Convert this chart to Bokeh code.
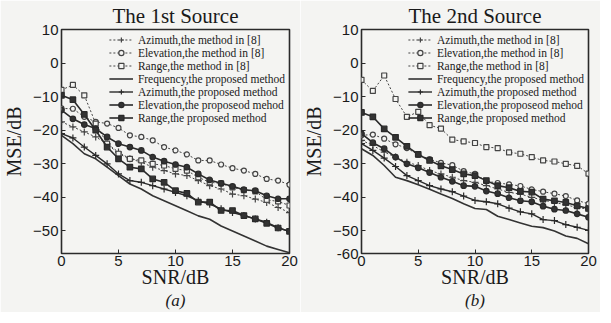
from bokeh.plotting import figure
from bokeh.models import FixedTicker, LinearAxis, Legend, LegendItem, Range1d
from bokeh.layouts import row
from bokeh.embed import file_html
from bokeh.resources import INLINE

snr = list(range(21))

# ---- The 1st Source (a) ----
az8_1 = [-17.5, -19, -20.5, -22, -24, -26.5, -28.5, -29.5, -31, -32, -33, -33.5, -35, -36.5, -37.5, -39, -39.5, -40.5, -41.5, -43, -44.5]
el8_1 = [-13.5, -13.6, -16, -17.5, -18, -19.3, -21.5, -22, -23, -25, -26, -27.2, -29, -29, -30.2, -31.3, -32, -33, -34.5, -35, -36.2]
rg8_1 = [-8, -6.5, -9.6, -18, -24, -27, -28.5, -29, -30, -30.5, -31.5, -32, -34, -35.5, -35.8, -37, -37.8, -38.2, -40.7, -41.2, -42.4]
fq_1 = [-21.5, -24, -27, -28.5, -31, -33.5, -36, -37.5, -39.5, -41, -42.5, -44, -45.5, -46.5, -48.5, -50, -51.5, -53, -54.5, -55.5, -56.5]
azp_1 = [-21, -22.3, -25, -27.5, -30, -33, -35, -35.5, -36.5, -37.5, -38.5, -39.5, -41, -42, -43.4, -44.5, -45.4, -46.4, -47.4, -49, -50.2]
elp_1 = [-14, -16.6, -18.3, -19.5, -22, -24, -25, -26, -28, -29.2, -30.2, -31, -33, -34.8, -35.8, -36.7, -37.7, -38, -39.5, -40.4, -40.4]
rgp_1 = [-9.6, -10.9, -15.3, -20, -25, -28.5, -31, -31.5, -34.5, -35.5, -38, -38.8, -41.4, -41.4, -43.9, -43.9, -45.4, -46.4, -47.7, -49.1, -50.1]

# ---- The 2nd Source (b) ----
az8_2 = [-23, -24.5, -26.5, -28, -29.5, -30.5, -32, -33, -34, -35, -35.5, -36.5, -37.5, -38.5, -39, -40, -40.8, -41.5, -42.2, -43, -43.5]
el8_2 = [-21.5, -21.3, -22.5, -24.2, -25.3, -27.3, -28.6, -29.7, -30.4, -32.2, -33, -35.2, -35.7, -36.1, -36.6, -37.6, -38.3, -38.9, -39.6, -40.9, -41.9]
rg8_2 = [-5, -8.3, -3.7, -10.7, -16, -14.5, -18.5, -19.5, -22.8, -23.3, -23.8, -25, -25.3, -26.6, -27, -28, -29, -29.3, -30, -30.6, -32.9]
fq_2 = [-25.5, -27.5, -30.5, -34, -35, -36.2, -37.6, -39, -40.3, -41.9, -43.3, -43.6, -45.6, -46.6, -47.6, -48.6, -49, -50, -51.5, -52.2, -53.8]
azp_2 = [-24, -26, -28.3, -30.8, -33.5, -35, -36.5, -37.5, -38.3, -39.6, -40.9, -41.3, -41.9, -43.2, -44.3, -44.9, -46.6, -46.9, -48.1, -48.9, -49.8]
elp_2 = [-21, -23.7, -25.5, -28, -30, -31.2, -32.6, -34, -35.2, -36.5, -36.7, -38.1, -38.9, -40.1, -41, -41.3, -42.6, -43.5, -43.9, -44.9, -45.9]
rgp_2 = [-14.7, -16, -19.6, -22.1, -24.8, -27.2, -29, -30.6, -31.7, -33, -33.5, -35, -36.5, -37.1, -38.2, -38.4, -40.5, -41, -41.5, -42.5, -43.3]

labels = ["Azimuth,the method in [8]", "Elevation,the method in [8]", "Range,the method in [8]",
          "Frequency,the proposed method", "Azimuth,the proposed method",
          "Elevation,the proposeod mehod", "Range,the proposed method"]
x_ticks = [0, 5, 10, 15, 20]
y_ticks = [10, 0, -10, -20, -30, -40, -50]
y_bottom = -56.7

BG = "#f4f4f2"
DARK = "#2a2a2a"
SERIF = "Liberation Serif"
SANS = "Liberation Sans"

styles = [
    dict(dash="2 2", marker="cross", fill=None, lw=1.0, color="#444444", size=7),
    dict(dash="2 2", marker="circle", fill=BG, lw=1.0, color="#444444", size=5),
    dict(dash="2 2", marker="square", fill=BG, lw=1.0, color="#444444", size=5),
    dict(dash="solid", marker=None, fill=None, lw=1.6, color="#333333", size=0),
    dict(dash="solid", marker="cross", fill=None, lw=1.4, color="#2a2a2a", size=7),
    dict(dash="solid", marker="circle", fill="#333333", lw=1.6, color="#2a2a2a", size=5.5),
    dict(dash="solid", marker="square", fill="#333333", lw=1.6, color="#2a2a2a", size=5.5),
]


def make_panel(title, series, caption, left_border, right_border, frame_w, extra_bottom_label):
    p = figure(frame_width=frame_w, frame_height=224, output_backend="svg", toolbar_location=None,
               x_range=Range1d(0, 20), y_range=Range1d(y_bottom, 10),
               min_border_left=left_border, min_border_right=right_border,
               min_border_top=0, min_border_bottom=5)
    p.background_fill_color = BG
    p.border_fill_color = BG
    p.outline_line_color = DARK
    p.outline_line_width = 1.6
    p.grid.visible = False
    p.title.text = title
    p.title.text_font = SERIF
    p.title.text_font_size = "21px"
    p.title.text_font_style = "normal"
    p.title.align = "center"
    p.title.text_color = "#1a1a1a"
    p.title.standoff = 3
    p.title.offset = 0

    items = []
    for vals, st, lab in zip(series, styles, labels):
        rs = []
        ln = p.line(snr, vals, line_color=st["color"], line_width=st["lw"], line_dash=st["dash"])
        rs.append(ln)
        if st["marker"]:
            sc = p.scatter(snr, vals, marker=st["marker"], size=st["size"], line_color=st["color"],
                           line_width=1.2, fill_color=st["fill"])
            rs.append(sc)
        items.append(LegendItem(label=lab, renderers=rs))
    leg = Legend(items=items, location="top_right", margin=0, padding=4, spacing=0,
                 label_height=13, glyph_height=13, glyph_width=24, label_standoff=5,
                 label_text_font=SERIF, label_text_font_size="11.5px", label_text_color="#1a1a1a",
                 border_line_alpha=0, background_fill_alpha=0)
    p.add_layout(leg, "center")

    for ax in (p.xaxis[0], p.yaxis[0]):
        ax.major_tick_in = 4
        ax.major_tick_out = 0
        ax.minor_tick_line_color = None
        ax.axis_line_color = None
        ax.major_tick_line_color = DARK
        ax.major_label_text_font = SANS
        ax.major_label_text_font_size = "15px"
        ax.major_label_text_color = "#1a1a1a"
        ax.axis_label_text_font = SERIF
        ax.axis_label_text_font_size = "20px"
        ax.axis_label_text_font_style = "normal"
        ax.axis_label_text_color = "#1a1a1a"
    p.xaxis[0].ticker = FixedTicker(ticks=x_ticks)
    p.xaxis[0].axis_label = "SNR/dB"
    p.xaxis[0].major_label_standoff = 2
    p.xaxis[0].axis_label_standoff = -3
    yt = list(y_ticks)
    if extra_bottom_label:
        yt.append(y_bottom)
        p.yaxis[0].major_label_overrides = {y_bottom: extra_bottom_label}
    p.yaxis[0].ticker = FixedTicker(ticks=yt)
    p.yaxis[0].axis_label = "MSE/dB"
    p.yaxis[0].major_label_standoff = 3
    p.yaxis[0].axis_label_standoff = 5

    cap = LinearAxis(ticker=FixedTicker(ticks=[]), axis_line_color=None, major_tick_line_color=None,
                     minor_tick_line_color=None, major_label_text_font_size="0px",
                     axis_label=caption, axis_label_text_font=SERIF, axis_label_text_font_size="17px",
                     axis_label_text_font_style="italic", axis_label_text_color="#1a1a1a",
                     axis_label_standoff=0)
    p.add_layout(cap, "below")
    return p


p1 = make_panel("The 1st Source", [az8_1, el8_1, rg8_1, fq_1, azp_1, elp_1, rgp_1], "(a)", 60, 11, 228, None)
p2 = make_panel("The 2nd Source", [az8_2, el8_2, rg8_2, fq_2, azp_2, elp_2, rgp_2], "(b)", 49, 12, 227, "-60")

layout = row(p1, p2)
open("out.html", "w").write(file_html(layout, INLINE))
